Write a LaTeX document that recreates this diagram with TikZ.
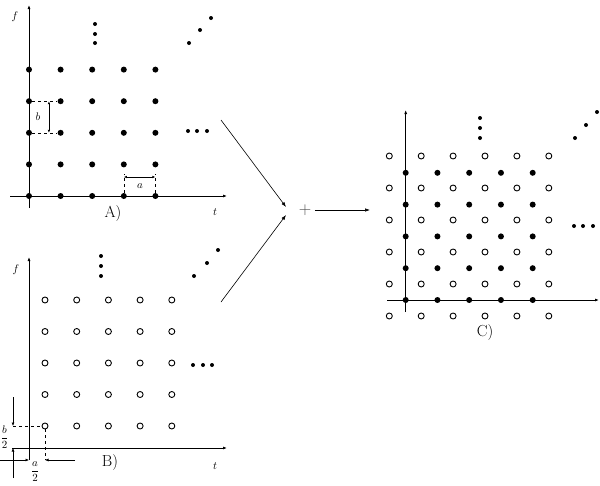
\documentclass[tikz,border=0pt]{standalone}
\usepackage{amsmath}
\usetikzlibrary{arrows.meta,positioning,calc}

\begin{document}
\begin{tikzpicture}[x=1pt, y=-1pt, every node/.style={align=center},
  full/.style={circle, fill=black, inner sep=0pt, minimum size=6pt},
  hollow/.style={circle, draw=black, line width=0.9pt, inner sep=0pt, minimum size=6pt},
  small/.style={circle, fill=black, inner sep=0pt, minimum size=4pt},
  axis/.style={-{Latex[length=4pt,width=3pt]}, line width=0.8pt},
  dim/.style={{Latex[length=3pt,width=2.5pt]}-{Latex[length=3pt,width=2.5pt]}, line width=0.6pt},
  half/.style={-{Latex[length=3.5pt,width=3pt]}, line width=0.6pt},
  guide/.style={dashed, line width=0.6pt},
  conn/.style={-{Latex[length=5pt,width=3.5pt]}, line width=0.6pt},
  lbl/.style={font=\fontsize{16}{18}\selectfont},
  var/.style={font=\fontsize{11}{13}\selectfont}]
\useasboundingbox (0,0) rectangle (600,485);

% A) full lattice
\draw[axis] (10,196) -- (227,196);
\draw[axis] (29,208) -- (29,5);
\foreach \i in {0,...,4}
  \foreach \j in {0,...,4}
    \node[full] (a\i\j) at (29+31.6*\i, 196-31.6*\j) {};
\foreach \k/\y in {1/24,2/34,3/43} \node[small] (av\k) at (95,\y) {};
\foreach \k/\x/\y in {1/189/43,2/200/30,3/211/18} \node[small] (ad\k) at (\x,\y) {};
\foreach \k/\x in {1/188,2/197,3/207} \node[small] (ah\k) at (\x,131) {};
\draw[guide] (a03) -- (a13);
\draw[guide] (a02) -- (a12);
\draw[dim] ($(a03)!0.63!(a13)$) -- ($(a02)!0.63!(a12)$);
\node[var] (lb) at (38,117) {$b$};
\draw[guide] (a30) -- ++(0,-22);
\draw[guide] (a40) -- ++(0,-22);
\draw[dim] ($(a30)+(0,-19)$) -- ($(a40)+(0,-19)$);
\node[var] (la) at (140,186) {$a$};
\node[var] (fa) at (15,17) {$f$};
\node[var] (ta) at (215,212) {$t$};
\node[lbl] (A) at (113,214) {A)};

% B) shifted lattice
\draw[axis] (12,448) -- (227,448);
\draw[axis] (29,460) -- (29,257);
\foreach \i in {0,...,4}
  \foreach \j in {0,...,4}
    \node[hollow] (b\i\j) at (45+31.7*\i, 426-31.5*\j) {};
\foreach \k/\y in {1/256,2/266,3/276} \node[small] (bv\k) at (101,\y) {};
\foreach \k/\x/\y in {1/194/276,2/207/263,3/218/250} \node[small] (bd\k) at (\x,\y) {};
\foreach \k/\x in {1/193,2/203,3/212} \node[small] (bh\k) at (\x,365) {};
\coordinate (hb1) at (13,397);
\coordinate (hb2) at (13,426);
\coordinate (hb3) at (13,478);
\coordinate (hb4) at (13,448);
\draw[guide] (hb2) -- (b00);
\draw[half] (hb1) -- (hb2);
\draw[half] (hb3) -- (hb4);
\node[var] (lb2) at (4.5,437) {$\dfrac{b}{2}$};
\coordinate (ha1) at (0,460);
\coordinate (ha2) at (29,460);
\coordinate (ha3) at (75,460);
\coordinate (ha4) at (45,460);
\draw[guide] (b00) -- (ha4);
\draw[half] (ha1) -- (ha2);
\draw[half] (ha3) -- (ha4);
\node[var] (la2) at (35,472) {$\dfrac{a}{2}$};
\node[var] (fb) at (16,270) {$f$};
\node[var] (tb) at (215,466) {$t$};
\node[lbl] (B) at (110,463) {B)};

% sum
\node[lbl, text=black!70] (plus) at (305,210) {$+$};
\coordinate (sa) at (221,120);
\coordinate (ea) at (286,207);
\coordinate (sb) at (221,302);
\coordinate (eb) at (286,215);
\coordinate (ec) at (370,210);
\draw[conn] (sa) -- (ea);
\draw[conn] (sb) -- (eb);
\draw[conn] (plus) -- (ec);

% C) combined lattice
\draw[axis] (387,300) -- (599,300);
\draw[axis] (405.7,312) -- (405.7,110);
\foreach \i in {0,...,5}
  \foreach \j in {0,...,5}
    \node[hollow] (d\i\j) at (389.3+31.9*\i, 316-32*\j) {};
\foreach \i in {0,...,4}
  \foreach \j in {0,...,4}
    \node[full] (c\i\j) at (405.7+31.75*\i, 300-31.8*\j) {};
\foreach \k/\y in {1/118,2/128,3/138} \node[small] (cv\k) at (480,\y) {};
\foreach \k/\x/\y in {1/575/138,2/586/125,3/597/112} \node[small] (cd\k) at (\x,\y) {};
\foreach \k/\x in {1/574,2/583,3/593} \node[small] (ch\k) at (\x,226) {};
\node[lbl] (C) at (485,333) {C)};
\end{tikzpicture}
\end{document}
